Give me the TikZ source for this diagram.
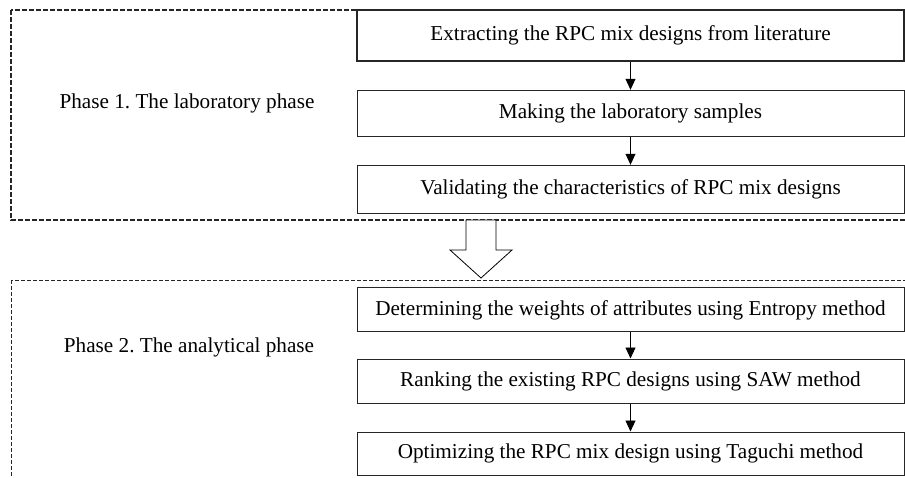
\documentclass[tikz,border=0pt]{standalone}
\usepackage{fontspec}
\setmainfont{Liberation Serif}
\frenchspacing
\usetikzlibrary{positioning,arrows.meta}

\begin{document}
\begin{tikzpicture}[x=1pt,y=-1pt,
      task box/.style={rectangle,draw=black!85,fill=white,line width=1pt,
        minimum width=547pt,inner sep=0pt,font=\fontsize{21.2}{25}\selectfont},
      phase label/.style={font=\fontsize{21.2}{25}\selectfont},
      phase frame/.style={draw=black!85,dash pattern=on 4pt off 2pt},
      flow/.style={-{Triangle[width=10pt,length=11pt]},line width=0.9pt}]

      \useasboundingbox (0,0) rectangle (905,478);

      % dashed frames of the two phases
      \draw[phase frame,line width=1.6pt,dash pattern=on 5pt off 2pt] (11,10) rectangle (915,220);
      \draw[phase frame,line width=0.8pt] (11,280) rectangle (915,490);

      \node[phase label] (p1) at (187,103) {Phase 1. The laboratory phase};
      \node[phase label] (p2) at (189,347) {Phase 2. The analytical phase};

      \node[task box,minimum height=51pt,line width=1.6pt] (1) at (630.5,35.5) {Extracting the RPC mix designs from literature};
      \node[task box,minimum height=46pt] (2) [below=28pt of 1] {Making the laboratory samples};
      \node[task box,minimum height=48pt] (3) [below=28pt of 2] {Validating the characteristics of RPC mix designs};

      \node[task box,minimum height=44pt] (4) at (630.5,310) {Determining the weights of attributes using Entropy method};
      \node[task box,minimum height=44pt] (5) [below=26pt of 4] {Ranking the existing RPC designs using SAW method};
      \node[task box,minimum height=43pt] (6) [below=28pt of 5] {Optimizing the RPC mix design using Taguchi method};

      \path[flow]
        (1) edge (2)
        (2) edge (3)
        (4) edge (5)
        (5) edge (6);

      % hollow arrow between the phases
      \draw[line width=0.8pt,fill=white] (466,220) -- (466,250) -- (450,250) -- (481,278)
        -- (512,250) -- (496,250) -- (496,220) -- cycle;
    \end{tikzpicture}
\end{document}
